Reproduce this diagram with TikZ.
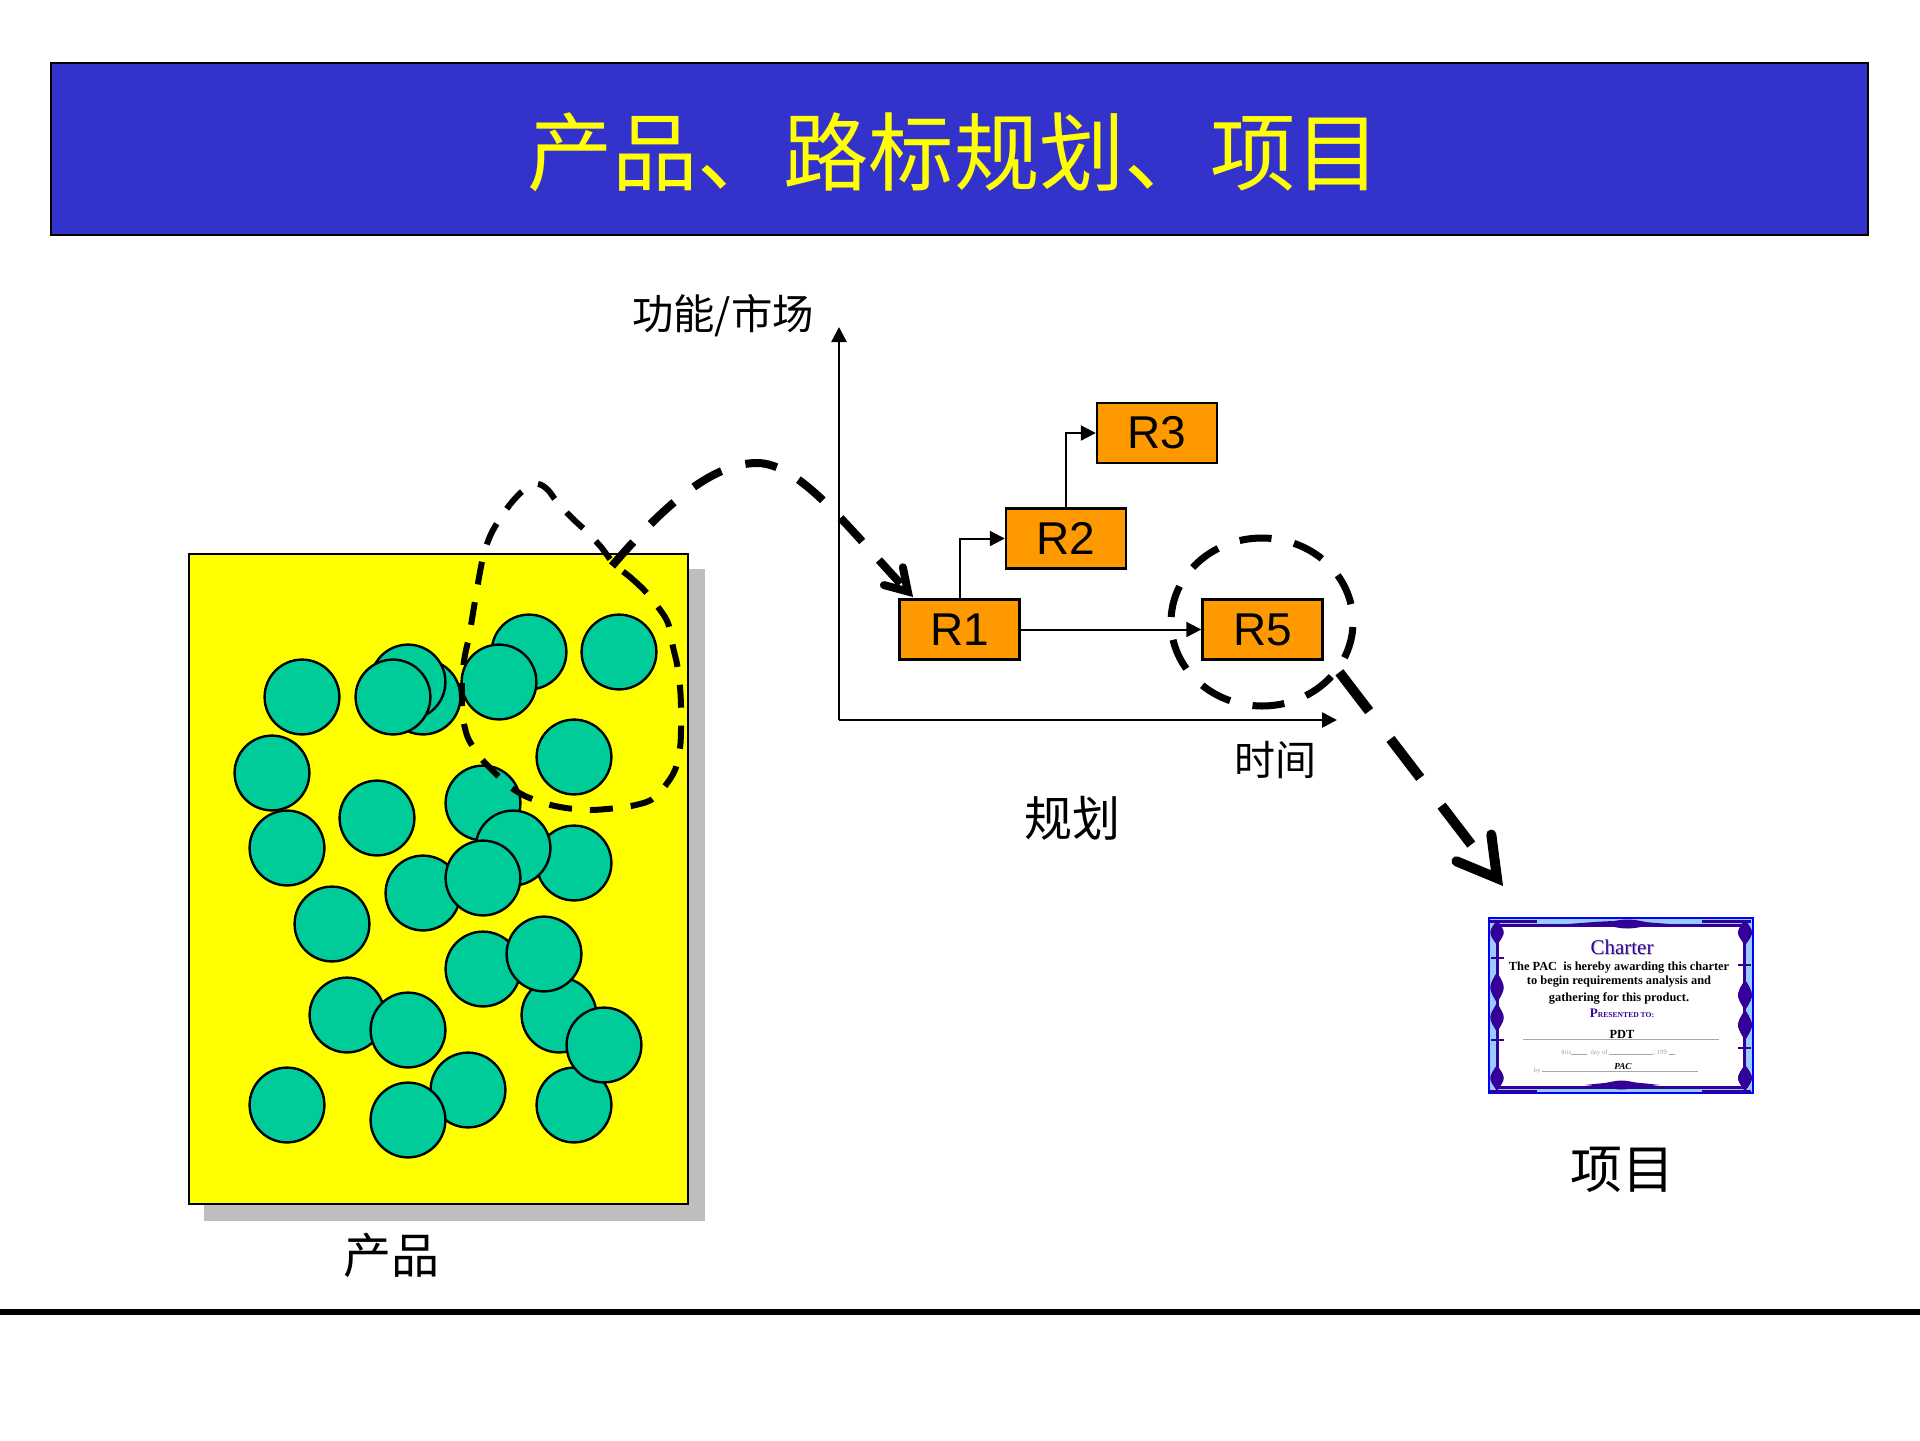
\documentclass[tikz,border=0pt]{standalone}
\usepackage{fontspec}
\usepackage{xcolor}
\setmainfont{Liberation Serif}
\newfontfamily\cjk{Noto Sans CJK SC}
\newfontfamily\arial{Liberation Sans}
\usetikzlibrary{arrows.meta, shapes.geometric}
\definecolor{titleblue}{HTML}{3333CC}
\definecolor{titleyellow}{HTML}{FFFF00}
\definecolor{ballgreen}{HTML}{00CC99}
\definecolor{shadowgrey}{HTML}{BEBEBE}
\definecolor{boxorange}{HTML}{FF9900}
\definecolor{certpurple}{HTML}{330099}
\definecolor{certsky}{HTML}{99CCFF}
\tikzset{
    ball/.style={circle, draw=black, fill=ballgreen, line width=1.2pt, minimum size=37.4pt, inner sep=0pt},
    release/.style={rectangle, draw=black, fill=boxorange, line width=1.2pt, minimum width=60pt, minimum height=30pt, inner sep=0pt, font=\arial\fontsize{23}{23}\selectfont},
    axisline/.style={line width=1.3pt, -{Triangle[length=7.5pt,width=7.5pt]}},
    link/.style={line width=1pt, -{Triangle[length=7.5pt,width=7.5pt]}},
    caption/.style={inner sep=0pt, font=\cjk\fontsize{24}{24}\selectfont},
    loopdash/.style={line width=3pt, dash pattern=on 11.5pt off 9pt},
    bigdash/.style={line width=4pt, dash pattern=on 16pt off 12.5pt, -{Straight Barb[length=10.5pt,width=13pt,line cap=round]}},
    ringdash/.style={ellipse, draw=black, line width=3.5pt, dash pattern=on 16pt off 11.5pt, dash phase=18.5pt, minimum width=91pt, minimum height=84pt, inner sep=0pt},
    hugedash/.style={line width=5pt, dash pattern=on 24.5pt off 17.5pt, -{Straight Barb[length=19pt,width=22pt,line cap=round]}},
    certtext/.style={inner sep=0pt, font=\bfseries\fontsize{6.2}{7}\selectfont},
    certgrey/.style={inner sep=0pt, text=gray!70, font=\fontsize{3.4}{4}\selectfont},
    certband/.style={draw=certpurple, line width=1.5pt}
}
\newcommand{\hlens}[4]{\fill[certpurple] (#2,#1) .. controls ({(#2+#3)/2},{#1-#4}) .. (#3,#1) .. controls ({(#2+#3)/2},{#1+#4}) .. (#2,#1);}
\newcommand{\vlens}[4]{\fill[certpurple] (#1,#2) .. controls ({#1-#4},{(#2+#3)/2}) .. (#1,#3) .. controls ({#1+#4},{(#2+#3)/2}) .. (#1,#2);}

\begin{document}
\begin{tikzpicture}[x=0.5pt, y=-0.5pt]
    \useasboundingbox (0,0) rectangle (1920,1440);
    % title bar
    \draw[fill=titleblue, line width=1pt] (51,63) rectangle (1868,235);
    \node[inner sep=0pt, text=titleyellow, font=\cjk\fontsize{42.7}{43}\selectfont] (title) at (954,152) {产品、路标规划、项目};
    % product box
    \fill[shadowgrey] (204,569) rectangle (705,1221);
    \draw[fill=titleyellow, line width=1.2pt] (189,554) rectangle (688,1204);
    \foreach \x/\y [count=\i] in {302/697, 423/697, 408/682, 393/697, 529/652, 619/652, 499/682, 574/757,
        272/773, 377/818, 483/803, 287/848, 574/863, 513/848, 423/893, 483/878, 332/924,
        483/969, 559/1015, 544/954, 347/1015, 408/1030, 287/1105, 468/1090, 408/1120, 574/1105, 604/1045}
        \node[ball] (ball\i) at (\x,\y) {};
    \draw[loopdash] plot[smooth cycle, tension=0.5] coordinates {(614,564) (630,577) (644,590) (658,607) (668,623) (673,647) (677,664) (680,687) (681,706) (681,729) (680,748) (675,770) (665,786) (651,800) (631,806) (607,809) (588,810) (566,808) (547,804) (525,796) (509,786) (493,771) (480,757) (468,738) (463,718) (462,697) (462,677) (465,655) (469,637) (473,613) (476,595) (480,572) (484,553) (491,534) (501,517) (512,502) (524,490) (538,484) (548,490) (557,502) (572,518) (586,531) (601,547)};
    \node[caption] (prodlabel) at (391,1255) {产品};
    % roadmap
    \coordinate (origin) at (839,720);
    \coordinate (ytip) at (839,327);
    \coordinate (xtip) at (1337,720);
    \draw[axisline] (origin) -- (ytip);
    \draw[axisline] (origin) -- (xtip);
    \node[release] (R1) at (959.5,629.5) {R1};
    \node[release] (R2) at (1066,538.5) {R2};
    \node[release] (R3) at (1157,433) {R3};
    \node[release] (R5) at (1262.5,629.5) {R5};
    \draw[link] (R1.east) -- (R5.west);
    \draw[link] (R1.north) |- (R2.west);
    \draw[link] (R2.north) |- (R3.west);
    \node[ringdash] (ring) at (1262,622) {};
    \node[caption, font=\cjk\fontsize{20.7}{21}\selectfont] (ylabel) at (723,316) {功能/市场};
    \node[caption, font=\cjk\fontsize{20.5}{21}\selectfont] (xlabel) at (1275,760) {时间};
    \node[caption] (planlabel) at (1072,818) {规划};
    % thick dashed connectors
    \coordinate (loopend) at (612,566);
    \coordinate (r1tip) at (913,597);
    \draw[bigdash] (loopend) .. controls (660,510) and (710,463) .. (757,463) .. controls (800,463) and (850,530) .. (r1tip);
    \coordinate (certtip) at (1503,886);
    \draw[hugedash] (ring.-33) -- (certtip);
    % charter picture
    \draw[draw=blue, fill=certsky, line width=1pt] (1489,918) rectangle (1753,1093);
    \draw[draw=certpurple, fill=white, line width=1.5pt] (1497,925) rectangle (1744,1087);
    \hlens{924}{1568}{1670}{4}
    \hlens{924}{1600}{1655}{6}
    \hlens{1085}{1585}{1660}{4}
    \hlens{1085}{1598}{1645}{6}
    \foreach \yy in {921, 1091} {
        \draw[certband] (1490,\yy) -- (1537,\yy);
        \draw[certband] (1702,\yy) -- (1751,\yy);
    }
    \foreach \a/\b in {972/1003, 1003/1032, 1065/1091, 920/945} \vlens{1497}{\a}{\b}{9}
    \foreach \a/\b in {980/1010, 1010/1040, 1065/1091, 920/945} \vlens{1745}{\a}{\b}{9}
    \foreach \a in {958, 1040} \draw[certband, line width=1pt] (1491,\a) -- (1504,\a);
    \foreach \a in {965, 1048} \draw[certband, line width=1pt] (1738,\a) -- (1751,\a);
    \node[inner sep=0pt, text=gray!50, font=\fontsize{10.5}{11}\selectfont] (chartershade) at (1623,948) {Charter};
    \node[inner sep=0pt, text=certpurple, font=\fontsize{10.5}{11}\selectfont] (chartertitle) at (1622,947) {Charter};
    \node[certtext] (line1) at (1619,968) {The PAC\ \ is hereby awarding this charter};
    \node[certtext] (line2) at (1619,982) {to begin requirements analysis and};
    \node[certtext] (line3) at (1619,998) {gathering for this product.};
    \node[inner sep=0pt, text=certpurple, font=\bfseries\fontsize{6.5}{7}\selectfont] (presented) at (1622,1013) {P{\fontsize{3.8}{4}\selectfont RESENTED TO:}};
    \node[certtext, font=\bfseries\fontsize{6.2}{7}\selectfont] (pdt) at (1622,1034) {PDT};
    \draw[gray!70, line width=0.5pt] (1523,1039) -- (1719,1039);
    \node[certgrey] (dateline) at (1618,1053) {this\rule{8pt}{0.3pt}\ \ day of \rule{22pt}{0.3pt}, 199 \rule{3pt}{0.3pt}};
    \node[certgrey] (byword) at (1537,1071) {by};
    \draw[gray!70, line width=0.5pt] (1542,1071) -- (1698,1071);
    \node[certtext, font=\bfseries\itshape\fontsize{4.6}{5}\selectfont] (pac) at (1623,1066) {PAC};
    \node[caption, font=\cjk\fontsize{26}{26}\selectfont] (projlabel) at (1622,1170) {项目};
    % bottom rule
    \draw[line width=3pt] (0,1312) -- (1920,1312);
\end{tikzpicture}
\end{document}
